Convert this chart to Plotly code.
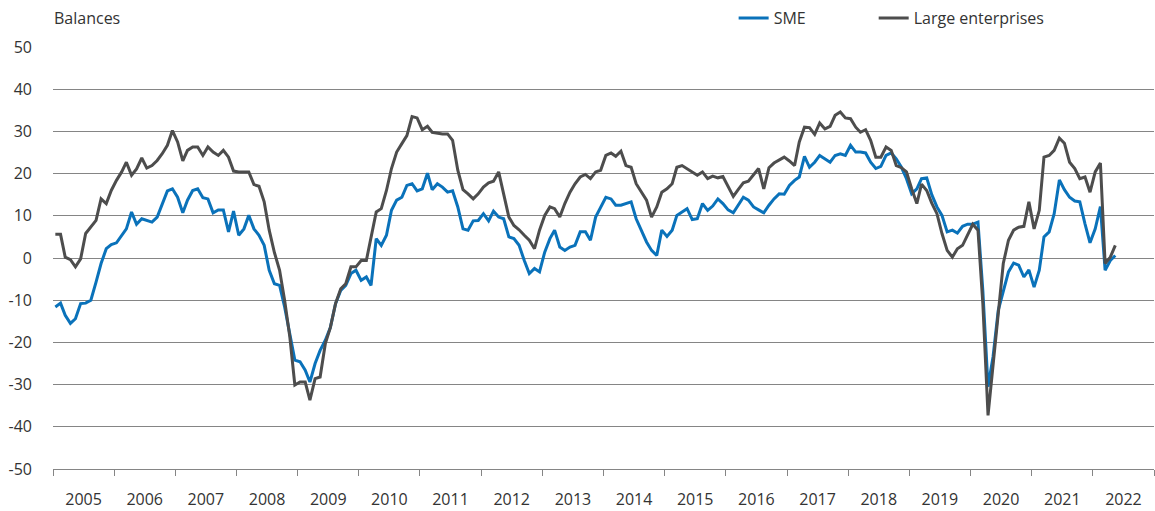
import plotly.graph_objects as go
import pandas as pd

# Monthly survey balances, January 2005 to May 2022
start_month = "2005-01"
n_months = 209

sme = [
    # 2005
    -11.6, -10.7, -13.6, -15.5, -14.4, -10.8, -10.7, -10.0, -5.7, -1.3, 2.2, 3.2,
    # 2006
    3.6, 5.4, 6.9, 10.9, 8.0, 9.3, 8.9, 8.5, 9.7, 12.9, 15.9, 16.4,
    # 2007
    14.4, 10.7, 13.7, 16.0, 16.4, 14.3, 14.0, 10.7, 11.4, 11.4, 6.2, 11.1,
    # 2008
    5.4, 6.9, 10.1, 6.9, 5.4, 3.0, -2.9, -6.1, -6.5, -11.6, -17.9, -24.2,
    # 2009
    -24.6, -26.6, -29.4, -25.0, -21.9, -19.5, -16.5, -10.8, -7.7, -6.5, -3.7, -2.9,
    # 2010
    -5.3, -4.5, -6.5, 4.6, 3.0, 5.4, 11.3, 13.7, 14.4, 17.2, 17.6, 15.9,
    # 2011
    16.4, 20.1, 16.2, 17.6, 16.8, 15.6, 15.9, 12.1, 6.9, 6.6, 8.8, 8.9,
    # 2012
    10.5, 8.8, 11.1, 9.7, 9.3, 5.0, 4.6, 3.0, -0.6, -3.7, -2.5, -3.3,
    # 2013
    1.4, 4.6, 6.6, 2.6, 1.8, 2.6, 3.0, 6.2, 6.2, 4.2, 9.7, 12.1,
    # 2014
    14.4, 14.0, 12.5, 12.5, 12.9, 13.3, 9.3, 6.6, 3.8, 1.8, 0.6, 6.6,
    # 2015
    5.1, 6.6, 10.1, 10.9, 11.7, 9.1, 9.3, 12.9, 11.3, 12.3, 14.0, 12.9,
    # 2016
    11.4, 10.7, 12.5, 14.4, 13.7, 12.1, 11.4, 10.7, 12.5, 14.0, 15.2, 15.1,
    # 2017
    17.2, 18.4, 19.2, 24.1, 21.5, 22.7, 24.3, 23.5, 22.7, 24.3, 24.7, 24.3,
    # 2018
    26.7, 25.1, 25.1, 24.9, 22.7, 21.2, 21.7, 24.3, 24.9, 23.5, 21.5, 18.8,
    # 2019
    15.2, 16.4, 18.8, 19.0, 15.0, 12.1, 10.1, 6.2, 6.6, 5.9, 7.5, 8.0,
    # 2020
    8.0, 8.5, -7.7, -30.5, -23.4, -12.4, -7.7, -3.3, -1.2, -1.7, -4.5, -2.8,
    # 2021
    -6.9, -2.9, 5.0, 6.2, 10.5, 18.5, 16.2, 14.4, 13.5, 13.3, 8.1, 3.6,
    # 2022
    6.9, 12.2, -2.9, -0.6, 0.6,
]

large = [
    # 2005
    5.6, 5.6, 0.2, -0.4, -2.1, -0.2, 5.8, 7.3, 8.9, 14.0, 12.9, 16.0,
    # 2006
    18.4, 20.4, 22.7, 19.6, 21.1, 23.7, 21.3, 21.9, 23.1, 24.7, 26.7, 30.2,
    # 2007
    27.5, 23.0, 25.5, 26.3, 26.3, 24.3, 26.3, 25.1, 24.3, 25.5, 23.9, 20.6,
    # 2008
    20.4, 20.4, 20.4, 17.4, 17.0, 13.3, 6.6, 1.3, -2.9, -10.0, -18.7, -30.1,
    # 2009
    -29.4, -29.4, -33.7, -28.6, -28.2, -20.3, -16.5, -10.8, -7.3, -6.1, -2.1, -2.1,
    # 2010
    -0.6, -0.6, 5.0, 10.9, 11.7, 16.0, 21.2, 25.1, 27.1, 29.0, 33.5, 33.2,
    # 2011
    30.4, 31.2, 29.8, 29.6, 29.4, 29.4, 27.9, 20.8, 16.2, 15.2, 14.0, 15.2,
    # 2012
    16.8, 17.8, 18.2, 20.4, 15.2, 9.7, 7.7, 6.7, 5.4, 4.2, 2.2, 6.6,
    # 2013
    10.1, 12.1, 11.7, 9.7, 12.9, 15.6, 17.6, 19.2, 19.8, 18.8, 20.4, 20.8,
    # 2014
    24.3, 24.9, 24.1, 25.3, 21.9, 21.5, 17.6, 15.6, 13.7, 9.7, 12.1, 15.6,
    # 2015
    16.4, 17.6, 21.5, 21.9, 21.2, 20.4, 19.6, 20.4, 18.8, 19.4, 19.0, 19.3,
    # 2016
    16.8, 14.6, 16.2, 17.8, 18.2, 19.6, 21.2, 16.4, 21.4, 22.5, 23.3, 23.9,
    # 2017
    23.0, 21.9, 27.5, 31.0, 30.9, 29.3, 32.0, 30.6, 31.2, 33.8, 34.6, 33.2,
    # 2018
    33.0, 31.0, 29.8, 30.4, 27.9, 23.9, 23.9, 26.3, 25.5, 21.9, 21.4, 20.4,
    # 2019
    16.4, 12.9, 17.5, 16.0, 13.0, 10.5, 5.8, 1.8, 0.2, 2.2, 3.0, 5.4,
    # 2020
    8.0, 6.6, -10.8, -37.3, -25.0, -12.4, -1.3, 4.2, 6.6, 7.3, 7.5, 13.3,
    # 2021
    6.9, 11.3, 23.9, 24.3, 25.5, 28.4, 27.2, 22.7, 21.2, 18.8, 19.2, 15.6,
    # 2022
    20.4, 22.5, -1.3, 0.2, 3.0,
]

y_ticks = [-50, -40, -30, -20, -10, 0, 10, 20, 30, 40, 50]
y_tick_labels = ["-50", "-40", "-30", "-20", "-10", "0", "10", "20", "30", "40", "50"]

# Each observation sits in the middle of its month
dates = pd.date_range(start_month, periods=n_months, freq="MS") + pd.Timedelta(days=14)

SME_BLUE = "#0a72ba"
LARGE_GREY = "#4d4d4d"
GRID = "#858585"
TEXT = "#333333"
FONT = "Open Sans"

fig = go.Figure()
fig.add_trace(go.Scatter(
    x=dates, y=sme, name="SME", mode="lines",
    line=dict(color=SME_BLUE, width=3), legend="legend",
))
fig.add_trace(go.Scatter(
    x=dates, y=large, name="Large enterprises", mode="lines",
    line=dict(color=LARGE_GREY, width=3), legend="legend2",
))

legend_style = dict(
    orientation="h", yanchor="top", y=1.109, xanchor="left",
    font=dict(family=FONT, size=16, color=TEXT),
    bgcolor="rgba(0,0,0,0)", borderwidth=0,
)

fig.update_layout(
    width=1155, height=511,
    margin=dict(l=53, r=1, t=47, b=39),
    paper_bgcolor="white", plot_bgcolor="white",
    font=dict(family=FONT, size=16, color=TEXT),
    showlegend=True,
    legend=dict(x=0.6182, **legend_style),
    legend2=dict(x=0.7454, **legend_style),
    xaxis=dict(
        type="date",
        range=["2005-01-01", "2023-01-01"],
        tick0="2005-01-01", dtick="M12",
        tickformat="%Y", ticklabelmode="period",
        ticks="outside", ticklen=6, tickcolor=GRID, tickwidth=1,
        showline=True, linecolor=GRID, linewidth=1,
        showgrid=False, zeroline=False,
        ticklabelstandoff=10,
        tickfont=dict(family=FONT, size=16, color=TEXT),
    ),
    yaxis=dict(
        range=[-50, 50],
        tickvals=y_ticks, ticktext=y_tick_labels,
        showgrid=True, gridcolor=GRID, gridwidth=1,
        zeroline=False, showline=False, ticks="",
        ticklabelstandoff=20,
        tickfont=dict(family=FONT, size=16, color=TEXT),
    ),
    annotations=[dict(
        text="Balances", xref="paper", yref="paper",
        x=0, y=1.068, xanchor="left", yanchor="middle",
        showarrow=False, xshift=-1,
        font=dict(family=FONT, size=16, color=TEXT),
    )],
)

fig.write_html("out.html", config={"displayModeBar": False})
